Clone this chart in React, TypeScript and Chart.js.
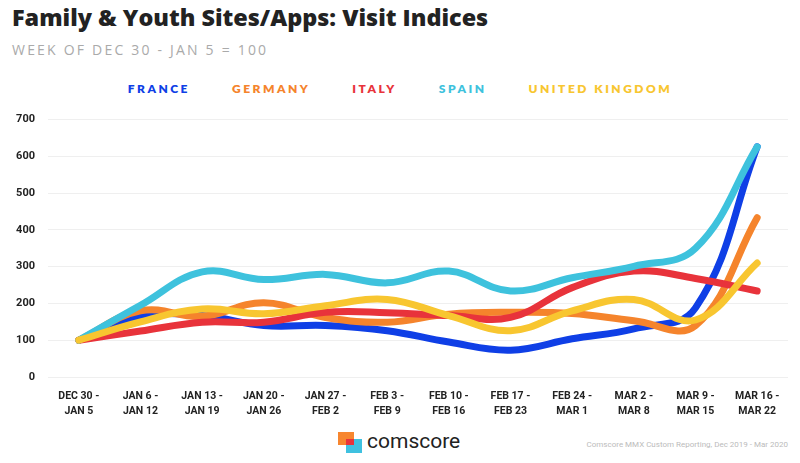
import React, { useEffect, useRef } from "react";
import { Chart, registerables } from "chart.js";

Chart.register(...registerables);

const weeks: string[][] = [
  ["DEC 30 -", "JAN 5"],
  ["JAN 6 -", "JAN 12"],
  ["JAN 13 -", "JAN 19"],
  ["JAN 20 -", "JAN 26"],
  ["JAN 27 -", "FEB 2"],
  ["FEB 3 -", "FEB 9"],
  ["FEB 10 -", "FEB 16"],
  ["FEB 17 -", "FEB 23"],
  ["FEB 24 -", "MAR 1"],
  ["MAR 2 -", "MAR 8"],
  ["MAR 9 -", "MAR 15"],
  ["MAR 16 -", "MAR 22"],
];

const france = [100, 165, 167, 140, 140, 126, 95, 73, 104, 131, 188, 626];
const germany = [100, 180, 165, 202, 162, 149, 171, 176, 173, 153, 140, 433];
const italy = [100, 125, 149, 149, 176, 175, 167, 162, 243, 288, 268, 234];
const spain = [100, 195, 286, 265, 279, 256, 288, 234, 270, 301, 350, 626];
const uk = [100, 150, 185, 172, 194, 211, 167, 126, 180, 211, 155, 310];

const yTicks = [0, 100, 200, 300, 400, 500, 600, 700];

const seriesNames = ["FRANCE", "GERMANY", "ITALY", "SPAIN", "UNITED KINGDOM"];
const seriesColors = ["#0f3fe6", "#f5842c", "#e8333b", "#3ec2dd", "#f8c630"];

export default function App() {
  const ref = useRef<HTMLCanvasElement | null>(null);

  useEffect(() => {
    document.body.style.margin = "0";
    const values = [france, germany, italy, spain, uk];
    const orders = [5, 4, 3, 2, 1];
    const chart = new Chart(ref.current as HTMLCanvasElement, {
      type: "line",
      data: {
        labels: weeks,
        datasets: values.map((v, i) => ({
          label: seriesNames[i],
          data: v,
          borderColor: seriesColors[i],
          backgroundColor: seriesColors[i],
          borderWidth: 7,
          borderCapStyle: "round" as const,
          borderJoinStyle: "round" as const,
          pointRadius: 0,
          tension: 0.4,
          fill: false,
          order: orders[i],
        })),
      },
      options: {
        animation: false,
        responsive: false,
        maintainAspectRatio: false,
        layout: { padding: { top: 16, right: 12, left: 0, bottom: 0 } },
        plugins: {
          legend: { display: false },
          tooltip: { enabled: false },
        },
        scales: {
          x: {
            offset: true,
            grid: { display: false },
            border: { display: false },
            ticks: {
              color: "#222",
              font: { family: "Roboto", weight: "bold", size: 10.5, lineHeight: 1.5 },
              padding: 3,
              maxRotation: 0,
              autoSkip: false,
            },
            afterFit: (s: any) => {
              s.height = 48;
            },
          },
          y: {
            min: 0,
            max: 700,
            afterBuildTicks: (s: any) => {
              s.ticks = yTicks.map((v) => ({ value: v }));
            },
            grid: { color: "#efefef", lineWidth: 1, drawTicks: false },
            border: { display: false },
            ticks: {
              color: "#222",
              font: { family: "Roboto", weight: "bold", size: 11 },
              padding: 13,
            },
            afterFit: (s: any) => {
              s.width = 48;
            },
          },
        },
      },
    });
    return () => chart.destroy();
  }, []);

  return (
    <div style={{ position: "absolute", left: 0, top: 0, width: 800, height: 463, background: "#fff", overflow: "hidden", fontFamily: "Roboto, sans-serif" }}>
      <div style={{ position: "absolute", left: 12, top: 1, fontSize: 23.4, fontWeight: 800, color: "#222", fontFamily: "'Open Sans', sans-serif", whiteSpace: "nowrap" }}>
        Family &amp; Youth Sites/Apps: Visit Indices
      </div>
      <div style={{ position: "absolute", left: 12, top: 40, fontSize: 14, color: "#aaa", letterSpacing: 2.2, whiteSpace: "nowrap", fontFamily: "'Open Sans', sans-serif" }}>
        WEEK OF DEC 30 - JAN 5 = 100
      </div>
      <div style={{ position: "absolute", left: 0, top: 81, width: 800, display: "flex", justifyContent: "center", gap: 42, fontSize: 12, fontWeight: 800, letterSpacing: 2.5, fontFamily: "Lato, sans-serif" }}>
        {seriesNames.map((n, i) => (
          <span key={n} style={{ color: seriesColors[i] }}>{n}</span>
        ))}
      </div>
      <canvas ref={ref} width={800} height={325} style={{ position: "absolute", left: 0, top: 100, width: 800, height: 325 }} />
      <div style={{ position: "absolute", left: 338, top: 432, width: 26, height: 22 }}>
        <div style={{ position: "absolute", left: 0, top: 0, width: 16, height: 13, background: "#f7862f" }} />
        <div style={{ position: "absolute", left: 8, top: 7, width: 16, height: 14, background: "#3fc1e0" }} />
        <div style={{ position: "absolute", left: 8, top: 7, width: 8, height: 6, background: "#e8333b" }} />
      </div>
      <div style={{ position: "absolute", left: 367, top: 429, fontSize: 21, color: "#222", fontFamily: "Roboto, sans-serif" }}>
        comscore
      </div>
      <div style={{ position: "absolute", right: 12, top: 440, fontSize: 8, color: "#bbb", whiteSpace: "nowrap" }}>
        Comscore MMX Custom Reporting, Dec 2019 - Mar 2020
      </div>
    </div>
  );
}
